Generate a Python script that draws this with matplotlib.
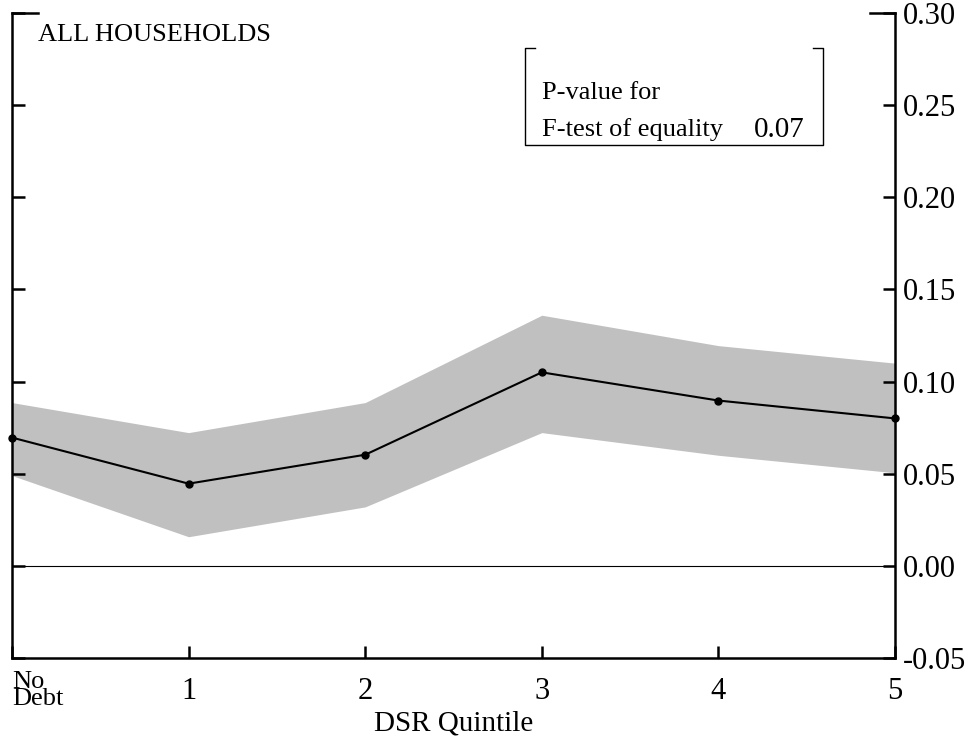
import matplotlib
matplotlib.use('Agg')
import matplotlib.pyplot as plt
from matplotlib.lines import Line2D
from matplotlib.transforms import ScaledTranslation

plt.rcParams['font.family'] = ['Liberation Serif', 'DejaVu Serif']

# ============================================
# Data
# ============================================
positions = [0, 1, 2, 3, 4, 5]
tick_labels = ['No\nDebt', '1', '2', '3', '4', '5']
estimate = [0.0696, 0.0446, 0.0603, 0.1050, 0.0897, 0.0800]
upper = [0.0886, 0.0723, 0.0886, 0.1360, 0.1195, 0.1100]
lower = [0.0490, 0.0158, 0.0320, 0.0723, 0.0600, 0.0505]
y_ticks = [-0.05, 0.00, 0.05, 0.10, 0.15, 0.20, 0.25, 0.30]
p_value = 0.07

fig = plt.figure(figsize=(9.68, 7.38), dpi=100)
ax = fig.add_axes([0.0124, 0.1084, 0.9122, 0.874])

ax.fill_between(positions, lower, upper, color='#c0c0c0', lw=0, zorder=1)
ax.axhline(0, color='black', lw=0.8, zorder=2)
ax.plot(positions, estimate, color='black', lw=1.5, zorder=3)
ax.plot(positions, estimate, 'o', color='black', ms=5, clip_on=False, zorder=4)

ax.set_xlim(0, 5)
ax.set_ylim(-0.05, 0.30)

# spines: left, right, bottom only
ax.spines['top'].set_visible(False)
for side in ['left', 'right', 'bottom']:
    ax.spines[side].set_linewidth(1.8)

ax.set_yticks(y_ticks)
ax.set_yticklabels(['%.2f' % v for v in y_ticks])
ax.tick_params(axis='y', left=True, right=True, labelleft=False, labelright=True,
               direction='in', length=9, width=1.8, labelsize=22, pad=6)
ax.set_xticks(positions)
ax.set_xticklabels(tick_labels)
ax.tick_params(axis='x', direction='in', length=9, width=1.8, labelsize=22, pad=14)
first = ax.get_xticklabels()[0]
first.set_horizontalalignment('left')
first.set_linespacing(0.75)
first.set_fontsize(19)
first.set_transform(first.get_transform() +
                    ScaledTranslation(0, 5 / 72, fig.dpi_scale_trans))
ax.set_xlabel('DSR Quintile', fontsize=21, labelpad=0)

# short stubs at the top corners
ax.add_line(Line2D([0, 0.03], [1, 1], transform=ax.transAxes, color='black',
                   lw=1.8, clip_on=False))
ax.add_line(Line2D([0.972, 1], [1, 1], transform=ax.transAxes, color='black',
                   lw=1.8, clip_on=False))

ax.text(0.0294, 0.966, 'ALL HOUSEHOLDS', transform=ax.transAxes,
        fontsize=19, va='center', ha='left')

# P-value box (bracket style)
bx0, bx1, by0, by1, stub = 0.581, 0.918, 0.795, 0.946, 0.011
box_kw = dict(transform=ax.transAxes, color='black', lw=1.0)
ax.add_line(Line2D([bx0 + stub, bx0, bx0, bx1, bx1, bx1 - stub],
                   [by1, by1, by0, by0, by1, by1], **box_kw))
ax.text(0.600, 0.876, 'P-value for', transform=ax.transAxes,
        fontsize=19, va='center', ha='left')
ax.text(0.600, 0.819, 'F-test of equality', transform=ax.transAxes,
        fontsize=19, va='center', ha='left')
ax.text(0.898, 0.819, '%.2f' % p_value, transform=ax.transAxes,
        fontsize=21, va='center', ha='right')

fig.savefig('out.png', dpi=100)
plt.close(fig)
